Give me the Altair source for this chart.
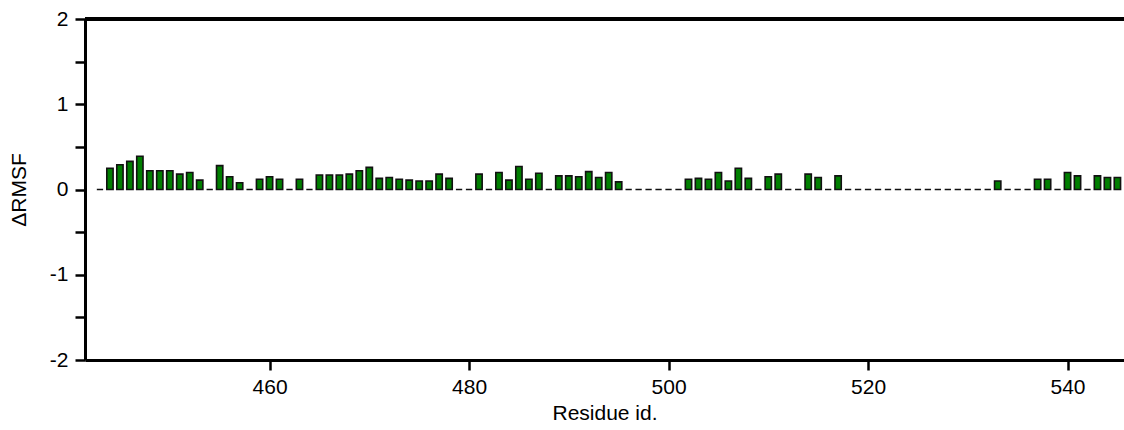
import altair as alt
import pandas as pd

residues = [
    443, 444, 445, 446, 447, 448, 449, 450, 451, 452, 453, 454, 455, 456, 457, 458, 459, 460,
    461, 462, 463, 464, 465, 466, 467, 468, 469, 470, 471, 472, 473, 474, 475, 476, 477, 478,
    479, 480, 481, 482, 483, 484, 485, 486, 487, 488, 489, 490, 491, 492, 493, 494, 495, 496,
    497, 498, 499, 500, 501, 502, 503, 504, 505, 506, 507, 508, 509, 510, 511, 512, 513, 514,
    515, 516, 517, 518, 519, 520, 521, 522, 523, 524, 525, 526, 527, 528, 529, 530, 531, 532,
    533, 534, 535, 536, 537, 538, 539, 540, 541, 542, 543, 544, 545,
]
delta_rmsf = [
    0.00, 0.25, 0.29, 0.33, 0.39, 0.22, 0.22, 0.22, 0.18, 0.20, 0.11, 0.00, 0.28, 0.15, 0.08, 0.00, 0.12, 0.15,
    0.12, 0.00, 0.12, 0.00, 0.17, 0.17, 0.17, 0.18, 0.22, 0.26, 0.13, 0.14, 0.12, 0.11, 0.10, 0.10, 0.18, 0.13,
    0.00, 0.00, 0.18, 0.00, 0.20, 0.11, 0.27, 0.12, 0.19, 0.00, 0.16, 0.16, 0.15, 0.21, 0.14, 0.20, 0.09, 0.00,
    0.00, 0.00, 0.00, 0.00, 0.00, 0.12, 0.13, 0.12, 0.20, 0.10, 0.25, 0.13, 0.00, 0.15, 0.18, 0.00, 0.00, 0.18,
    0.14, 0.00, 0.16, 0.00, 0.00, 0.00, 0.00, 0.00, 0.00, 0.00, 0.00, 0.00, 0.00, 0.00, 0.00, 0.00, 0.00, 0.00,
    0.10, 0.00, 0.00, 0.00, 0.12, 0.12, 0.00, 0.20, 0.16, 0.00, 0.16, 0.14, 0.14,
]

x_domain = [442, 545.16]
x_ticks = [460, 480, 500, 520, 540]
y_domain = [-2, 2]
y_ticks = [-2, -1.5, -1, -0.5, 0, 0.5, 1, 1.5, 2]

FONT = "Liberation Sans"
W, H = 1039, 341

df = pd.DataFrame({"residue": residues, "drmsf": delta_rmsf})

bars = alt.Chart(df).mark_bar(
    size=6.3, color="#007F00", stroke="#111111", strokeWidth=1.6, clip=True
).encode(
    x=alt.X(
        "residue:Q",
        scale=alt.Scale(domain=x_domain, nice=False, zero=False),
        axis=alt.Axis(
            values=x_ticks, title="Residue id.", grid=False,
            domainColor="black", domainWidth=3, tickColor="black", tickWidth=2.5,
            tickSize=10, labelPadding=6, labelFontSize=21, labelFont=FONT,
            labelColor="black", titleFont=FONT, titleFontSize=21,
            titleFontWeight="normal", titleColor="black", titlePadding=5,
        ),
    ),
    y=alt.Y(
        "drmsf:Q",
        scale=alt.Scale(domain=y_domain, nice=False),
        axis=alt.Axis(
            values=y_ticks, title="ΔRMSF", grid=False,
            labelExpr="datum.value % 1 == 0 ? '' + datum.value : ''",
            domainColor="black", domainWidth=3, tickColor="black", tickWidth=2.5,
            tickSize=10, labelPadding=7, labelFontSize=21, labelFont=FONT,
            labelColor="black", titleFont=FONT, titleFontSize=21,
            titleFontWeight="normal", titleColor="black", titlePadding=20,
        ),
    ),
)

top_spine = alt.Chart(df).mark_rule(color="black", strokeWidth=3).encode(
    x=alt.value(0), x2=alt.value(W), y=alt.value(0)
)

chart = alt.layer(bars, top_spine).properties(
    width=W, height=H,
    padding={"left": 85, "top": 19, "right": 0, "bottom": 70},
    autosize=alt.AutoSizeParams(type="none"),
).configure_view(stroke=None)

chart.save("out.html", embed_options={"renderer": "svg", "actions": False})
